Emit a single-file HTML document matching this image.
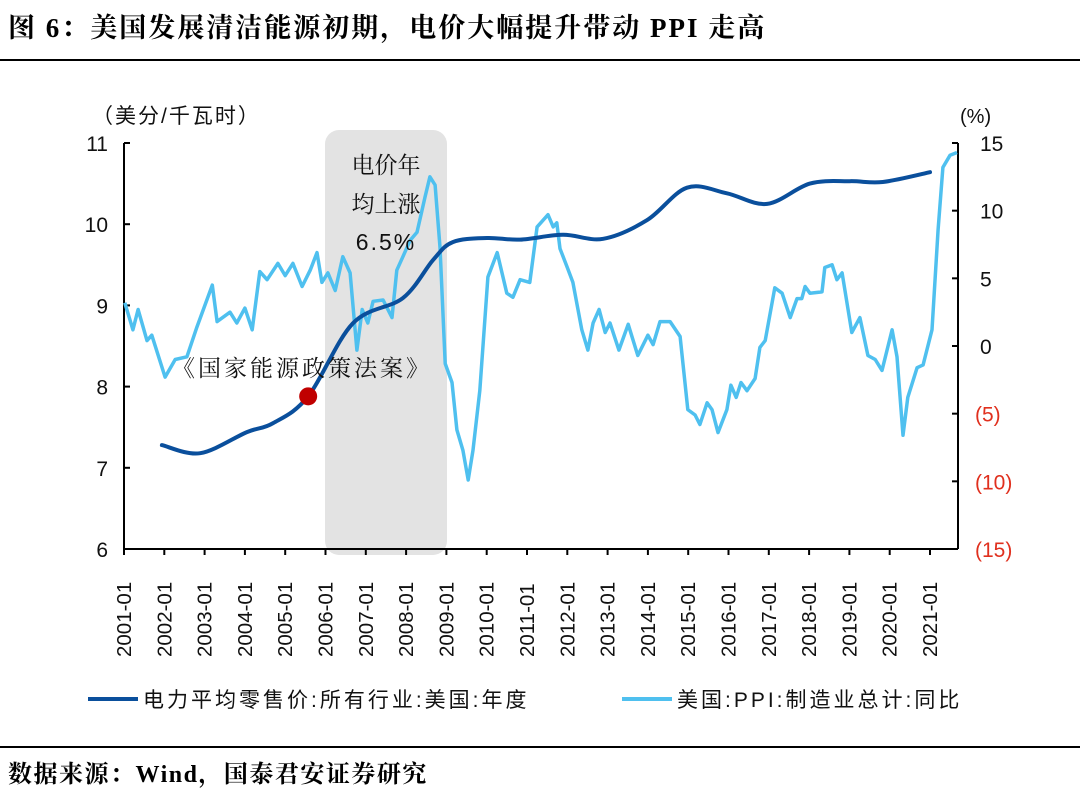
<!DOCTYPE html>
<html><head><meta charset="utf-8">
<style>
body{margin:0;background:#fff;}
#wrap{position:relative;width:1080px;height:798px;overflow:hidden;background:#fff;font-family:"Liberation Sans","Noto Sans CJK SC",sans-serif;}
</style></head>
<body>
<div id="wrap">
<svg id="svg" width="1080" height="798" xmlns="http://www.w3.org/2000/svg">
<text x="8" y="37" font-family="'Liberation Serif','Noto Serif CJK SC',serif" font-weight="bold" font-size="27" letter-spacing="2" fill="#000">图 6：美国发展清洁能源初期，电价大幅提升带动 PPI 走高</text>
<line x1="0" y1="60" x2="1080" y2="60" stroke="#000" stroke-width="2"/>
<line x1="0" y1="747" x2="1080" y2="747" stroke="#000" stroke-width="2"/>
<text x="8" y="782" font-family="'Liberation Serif','Noto Serif CJK SC',serif" font-weight="bold" font-size="24" letter-spacing="1.5" fill="#000">数据来源：Wind，国泰君安证券研究</text>
<rect x="325" y="130" width="122" height="425" rx="14" fill="#e3e3e3"/>
<g id="axes"></g>
<g id="series"></g>
<text x="386" y="173" text-anchor="middle" font-family="'Noto Serif CJK SC',serif" font-size="23" fill="#111">电价年</text>
<text x="386" y="212" text-anchor="middle" font-family="'Noto Serif CJK SC',serif" font-size="23" fill="#111">均上涨</text>
<text x="386" y="250" text-anchor="middle" font-family="'Liberation Sans',sans-serif" font-size="23" fill="#111" letter-spacing="2">6.5%</text>
<text x="172" y="376" font-family="'Noto Serif CJK SC',serif" font-size="23" fill="#111" letter-spacing="3">《国家能源政策法案》</text>
<text x="92" y="123" font-family="'Liberation Sans','Noto Sans CJK SC',sans-serif" font-size="21" fill="#111" letter-spacing="2">（美分/千瓦时）</text>
<text x="960" y="123" font-family="'Liberation Sans',sans-serif" font-size="20" fill="#111">(%)</text>
<line x1="88" y1="699" x2="138" y2="699" stroke="#0a4f9c" stroke-width="4"/>
<text x="143" y="707" font-family="'Liberation Sans','Noto Sans CJK SC',sans-serif" font-size="21" fill="#111" letter-spacing="3">电力平均零售价:所有行业:美国:年度</text>
<line x1="622" y1="699" x2="672" y2="699" stroke="#4fc0ef" stroke-width="4"/>
<text x="677" y="707" font-family="'Liberation Sans','Noto Sans CJK SC',sans-serif" font-size="21" fill="#111" letter-spacing="3">美国:PPI:制造业总计:同比</text>
</svg>
</div>
<script>
const ppiDates=[2001.02,2001.22,2001.35,2001.57,2001.69,2002.02,2002.27,2002.56,2002.81,2003.19,2003.31,2003.63,2003.80,2004.00,2004.18,2004.37,2004.55,2004.82,2005.00,2005.19,2005.42,2005.62,2005.79,2005.91,2006.06,2006.24,2006.43,2006.61,2006.78,2006.91,2007.05,2007.18,2007.43,2007.65,2007.77,2007.92,2008.10,2008.27,2008.47,2008.59,2008.72,2008.84,2008.97,2009.14,2009.26,2009.41,2009.54,2009.66,2009.83,2010.03,2010.26,2010.50,2010.65,2010.83,2011.07,2011.25,2011.52,2011.65,2011.74,2011.82,2012.00,2012.14,2012.36,2012.51,2012.64,2012.79,2012.94,2013.06,2013.28,2013.51,2013.75,2014.00,2014.13,2014.30,2014.55,2014.80,2014.99,2015.17,2015.29,2015.47,2015.59,2015.74,2015.96,2016.06,2016.19,2016.31,2016.46,2016.66,2016.78,2016.91,2017.15,2017.33,2017.53,2017.70,2017.82,2017.90,2018.02,2018.32,2018.39,2018.57,2018.69,2018.82,2019.06,2019.26,2019.46,2019.64,2019.81,2020.06,2020.18,2020.33,2020.45,2020.68,2020.83,2021.05,2021.20,2021.32,2021.50,2021.67];
const ppiValues=[3.2,1.2,2.7,0.4,0.8,-2.3,-1.0,-0.8,1.4,4.5,1.8,2.5,1.7,2.8,1.2,5.5,4.9,6.1,5.2,6.1,4.4,5.6,6.9,4.7,5.4,4.1,6.6,5.4,-0.3,2.7,1.7,3.3,3.4,2.1,5.6,6.6,7.8,8.4,11.0,12.5,11.9,7.3,-1.3,-2.7,-6.2,-7.7,-9.9,-7.7,-3.3,5.1,6.9,3.9,3.6,4.9,4.7,8.8,9.7,8.8,9.1,7.2,5.8,4.7,1.2,-0.3,1.7,2.7,1.0,1.7,-0.3,1.6,-0.7,0.8,0.1,1.8,1.8,0.7,-4.7,-5.1,-5.8,-4.2,-4.7,-6.4,-4.7,-2.9,-3.8,-2.7,-3.3,-2.4,-0.1,0.4,4.3,3.9,2.1,3.5,3.5,4.4,3.9,4.0,5.8,6.0,4.9,5.4,1.0,2.1,-0.7,-1.0,-1.8,1.2,-0.8,-6.6,-3.8,-1.6,-1.4,1.2,8.6,13.2,14.1,14.3];
const elecDates=[2001.94,2002.89,2004.05,2004.70,2005.57,2006.68,2007.92,2008.67,2009.16,2010.01,2010.83,2011.89,2012.89,2013.98,2014.97,2015.96,2016.96,2018.02,2019.01,2019.83,2021.00];
const elecValues=[7.28,7.18,7.44,7.55,7.88,8.78,9.09,9.56,9.78,9.83,9.81,9.87,9.82,10.05,10.45,10.38,10.25,10.50,10.53,10.52,10.64];
const markerDate=2005.57, markerValue=7.88;
const leftTicks=[6,7,8,9,10,11];
const rightTicks=[-15,-10,-5,0,5,10,15];
const rightTickLabels=["(15)","(10)","(5)","0","5","10","15"];
const xTickYears=[2001,2002,2003,2004,2005,2006,2007,2008,2009,2010,2011,2012,2013,2014,2015,2016,2017,2018,2019,2020,2021];

const NS="http://www.w3.org/2000/svg";
const X0=124,X1=958,Y0=549,Y1=143;
const xs=d=>X0+(d-2001)*40.3;
const yl=v=>Y0-(v-6)/5*(Y0-Y1);
const yr=v=>Y0-(v+15)/30*(Y0-Y1);
function mk(tag,attrs,parent){const e=document.createElementNS(NS,tag);for(const k in attrs)e.setAttribute(k,attrs[k]);parent.appendChild(e);return e;}
const axes=document.getElementById('axes'), series=document.getElementById('series');
let e;
e=mk('line',{x1:X0,y1:Y1,x2:X0,y2:Y0,stroke:'#000','stroke-width':2},axes);


e=mk('line',{x1:X1,y1:Y1,x2:X1,y2:Y0,stroke:'#000','stroke-width':2},axes);


e=mk('line',{x1:X0,y1:Y0,x2:X1,y2:Y0,stroke:'#000','stroke-width':2},axes);


leftTicks.forEach(v=>{
  const y=yl(v);
  mk('line',{x1:X0,y1:y,x2:X0+6,y2:y,stroke:'#000','stroke-width':2},axes);
  e=mk('text',{x:X0-16,y:y+8,'text-anchor':'end','font-size':21,fill:'#111'},axes);
  e.textContent=v;
  
  
});
rightTicks.forEach((v,i)=>{
  const y=yr(v);
  mk('line',{x1:X1-6,y1:y,x2:X1,y2:y,stroke:'#000','stroke-width':2},axes);
  e=mk('text',{x:v<0?975:980,y:y+8,'text-anchor':'start','font-size':21,fill:v<0?'#e0301e':'#111'},axes);
  e.textContent=rightTickLabels[i];
  
  
});
xTickYears.forEach(yv=>{
  const x=xs(yv);
  mk('line',{x1:x,y1:Y0,x2:x,y2:Y0+6,stroke:'#000','stroke-width':2},axes);
  e=mk('text',{x:0,y:0,'text-anchor':'start','font-size':20.5,fill:'#111',transform:`translate(${x+7},657) rotate(-90)`},axes);
  e.textContent=yv+'-01';
  
  
});
let d=ppiDates.map((t,i)=>(i?'L':'M')+xs(t).toFixed(1)+','+yr(ppiValues[i]).toFixed(1)).join('');
e=mk('path',{d:d,fill:'none',stroke:'#4fc0ef','stroke-width':3.5,'stroke-linejoin':'round'},series);


const pts=elecDates.map((t,i)=>[xs(t),yl(elecValues[i])]);
let p='M'+pts[0][0].toFixed(1)+','+pts[0][1].toFixed(1);
for(let i=0;i<pts.length-1;i++){
  const a=pts[i-1]||pts[i],b=pts[i],c=pts[i+1],n=pts[i+2]||c;
  const c1=[b[0]+(c[0]-a[0])/6,b[1]+(c[1]-a[1])/6],c2=[c[0]-(n[0]-b[0])/6,c[1]-(n[1]-b[1])/6];
  p+=`C${c1[0].toFixed(1)},${c1[1].toFixed(1)} ${c2[0].toFixed(1)},${c2[1].toFixed(1)} ${c[0].toFixed(1)},${c[1].toFixed(1)}`;
}
e=mk('path',{d:p,fill:'none',stroke:'#0a4f9c','stroke-width':4,'stroke-linecap':'round'},series);


e=mk('circle',{cx:xs(markerDate),cy:yl(markerValue),r:9,fill:'#c00000'},series);


</script>
</body></html>
